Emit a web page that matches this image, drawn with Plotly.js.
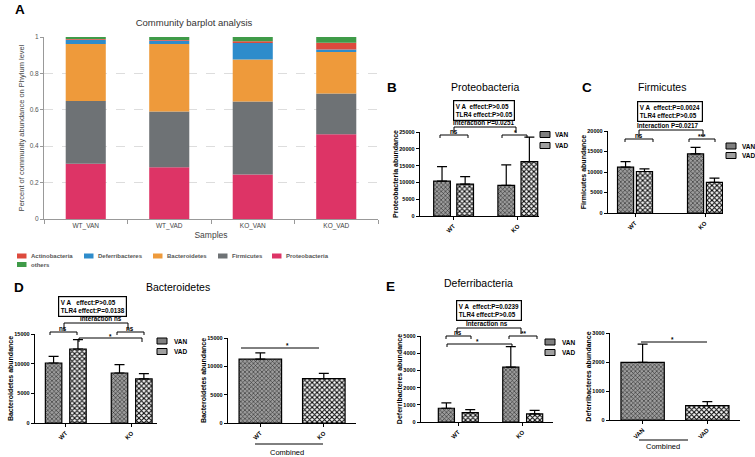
<!DOCTYPE html>
<html><head><meta charset="utf-8">
<script src="https://cdn.plot.ly/plotly-3.0.1.min.js"></script>
<style>html,body{margin:0;padding:0;background:#fff;}#chart{width:755px;height:457px;}</style>
</head><body><div id="chart"></div>
<script>
// ---------- Panel A data (relative abundance, phylum level) ----------
const samples = ['WT_VAN','WT_VAD','KO_VAN','KO_VAD'];
const proteobacteria  = [0.304,0.284,0.245,0.465];
const firmicutes      = [0.344,0.306,0.400,0.224];
const bacteroidetes   = [0.314,0.372,0.232,0.229];
const deferribacteres = [0.023,0.018,0.090,0.014];
const actinobacteria  = [0.004,0.004,0.009,0.037];
const others          = [0.011,0.016,0.024,0.031];

// ---------- Panels B-E data (abundance, mean and SEM) ----------
const genotypes = ['WT','KO'];
const treatments = ['VAN','VAD'];
const proteoVAN = [10400, 9100],  proteoVANsem = [4300, 6100];
const proteoVAD = [9500, 16200],  proteoVADsem = [2200, 7300];
const firmVAN   = [11170, 14410], firmVANsem   = [1380, 1620];
const firmVAD   = [10120, 7450],  firmVADsem   = [650, 1050];
const bactVAN   = [10110, 8430],  bactVANsem   = [1130, 1400];
const bactVAD   = [12470, 7420],  bactVADsem   = [1570, 890];
const bactCombined = [11265, 7820], bactCombinedSem = [1105, 930];
const defVAN    = [798, 3190],    defVANsem    = [311, 1187];
const defVAD    = [545, 467],     defVADsem    = [175, 214];
const defCombined = [1985, 496],  defCombinedSem = [634, 139];

const yTicksB = [0,5000,10000,15000,20000,25000];
const yTicksC = [0,5000,10000,15000,20000];
const yTicksD = [0,5000,10000,15000];
const yTicksE = [0,1000,2000,3000,4000,5000];
const yTicksE2 = [0,1000,2000,3000];

// ---------- helpers ----------
const W = 755, H = 457;
const X = p => p / W, Y = p => 1 - p / H;
const F = 'Liberation Sans, Arial, sans-serif';

const patVAN = {shape:'x', fgcolor:'#2a2a2a', bgcolor:'#9c9c9c', size:3, solidity:0.35};
const patVAD = {shape:'x', fgcolor:'#000', bgcolor:'#fff', size:3.5, solidity:0.5};

function errs(sem){ return {type:'data', array:sem, arrayminus:sem.map(()=>0), symmetric:false, color:'#000', thickness:1.2, width:5}; }
function barT(xa, ya, y, sem, name, off, w, pat){
  return {type:'bar', x:genotypes, y, name, xaxis:xa, yaxis:ya, offset:off, width:w,
    marker:{color:pat.bgcolor, line:{color:'#000', width:1.2}, pattern:pat},
    error_y:errs(sem), showlegend:false, hoverinfo:'skip'};
}
function combT(xa, ya, cats, y, sem){
  return {type:'bar', x:cats, y, xaxis:xa, yaxis:ya, offset:-0.335, width:0.67,
    marker:{color:'#bbb', line:{color:'#000', width:1.2},
      pattern:{shape:['x','x'], fgcolor:[patVAN.fgcolor, patVAD.fgcolor], bgcolor:[patVAN.bgcolor, patVAD.bgcolor], size:[patVAN.size, patVAD.size], solidity:[patVAN.solidity, patVAD.solidity]}},
    error_y:errs(sem), showlegend:false, hoverinfo:'skip'};
}

const traces = [];
// Panel A stacked bars
const phyla = [
  ['Proteobacteria', proteobacteria, '#DD3466'],
  ['Firmicutes', firmicutes, '#6E7275'],
  ['Bacteroidetes', bacteroidetes, '#EE9A3B'],
  ['Deferribacteres', deferribacteres, '#2E8CCB'],
  ['Actinobacteria', actinobacteria, '#DD4A3D'],
  ['others', others, '#3F9B48']
];
let cum = samples.map(() => 0);
phyla.forEach(([name, vals, col]) => {
  traces.push({type:'bar', x:samples, y:vals, base:cum.slice(), name, offset:-0.24, width:0.48,
    marker:{color:col, line:{width:0}}, xaxis:'x', yaxis:'y', showlegend:false, hoverinfo:'skip'});
  cum = cum.map((c, i) => c + vals[i]);
});

// Panel B
traces.push(barT('x2','y2', proteoVAN, proteoVANsem, 'VAN', -0.31, 0.26, patVAN));
traces.push(barT('x2','y2', proteoVAD, proteoVADsem, 'VAD', 0.05, 0.26, patVAD));
// Panel C
traces.push(barT('x3','y3', firmVAN, firmVANsem, 'VAN', -0.25, 0.23, patVAN));
traces.push(barT('x3','y3', firmVAD, firmVADsem, 'VAD', 0.02, 0.23, patVAD));
// Panel D
traces.push(barT('x4','y4', bactVAN, bactVANsem, 'VAN', -0.31, 0.25, patVAN));
traces.push(barT('x4','y4', bactVAD, bactVADsem, 'VAD', 0.06, 0.25, patVAD));
traces.push(combT('x5','y5', genotypes, bactCombined, bactCombinedSem));
// Panel E
traces.push(barT('x6','y6', defVAN, defVANsem, 'VAN', -0.31, 0.25, patVAN));
traces.push(barT('x6','y6', defVAD, defVADsem, 'VAD', 0.06, 0.25, patVAD));
traces.push(combT('x7','y7', treatments, defCombined, defCombinedSem));

function xAx(l, r, range, anchor){
  return {domain:[X(l), X(r)], range, type:'category', anchor, showline:true, linecolor:'#000', linewidth:1.3,
    ticks:'outside', ticklen:3, tickcolor:'#000', tickwidth:1, tickangle:-45,
    tickfont:{size:6, family:F, weight:700, color:'#000'}, showgrid:false, zeroline:false, fixedrange:true};
}
function yAx(top, bot, ticks, title, anchor){
  return {domain:[Y(bot), Y(top)], range:[0, ticks[ticks.length-1]], anchor, tickvals:ticks, ticktext:ticks.map(String),
    showline:true, linecolor:'#000', linewidth:1.3, ticks:'outside', ticklen:3, tickcolor:'#000', tickwidth:1,
    tickfont:{size:5.5, family:F, weight:700, color:'#000'}, showgrid:false, zeroline:false, fixedrange:true,
    title:{text:title, font:{size:7, family:F, weight:700, color:'#000'}, standoff:0}};
}

const shapes = [], annotations = [];
function seg(x0,y0,x1,y1,w){ shapes.push({type:'line', xref:'paper', yref:'paper', x0:X(x0), y0:Y(y0), x1:X(x1), y1:Y(y1), line:{color:'#000', width:w||1}}); }
function bracket(x0,x1,y,drop){ seg(x0,y,x1,y); seg(x0,y,x0,y+drop); seg(x1,y,x1,y+drop); }
function txt(x,y,t,size,extra){
  annotations.push(Object.assign({xref:'paper', yref:'paper', x:X(x), y:Y(y), text:t, showarrow:false,
    xanchor:'center', yanchor:'middle', font:{size, family:F, color:'#000'}}, extra||{}));
}
function bold(x,y,t,size){ txt(x,y,t,size,{font:{size, family:F, color:'#000', weight:700}}); }
function statBox(cx,cy,t){
  txt(cx,cy,t,6.3,{align:'left', bordercolor:'#000', borderwidth:1.2, borderpad:1.5, font:{size:6.3, family:F, color:'#000', weight:700}});
}
function swatch(x0,y0,x1,y1,col,line){ shapes.push({type:'rect', xref:'paper', yref:'paper', x0:X(x0), y0:Y(y1), x1:X(x1), y1:Y(y0), fillcolor:col, line:line||{width:0}}); }
function vLegend(sx, tx, y1, y2){
  swatch(sx, y1-3, sx+10, y1+3, '#7f7f7f', {color:'#000', width:1});
  swatch(sx, y2-3, sx+10, y2+3, '#a0a0a0', {color:'#000', width:1});
  txt(tx, y1, 'VAN', 6.5, {xanchor:'left', font:{size:6.5, family:F, color:'#000', weight:700}});
  txt(tx, y2, 'VAD', 6.5, {xanchor:'left', font:{size:6.5, family:F, color:'#000', weight:700}});
}

// Panel letters
[['A',20,9],['B',392,87],['C',587,87],['D',19,287],['E',390,286]].forEach(([t,x,y]) =>
  txt(x,y,t,13.5,{font:{size:13.5, family:F, color:'#000', weight:700}}));

// Panel A legend
const legA = [['Actinobacteria',17,256,'#DD4A3D'],['Deferribacteres',84,256,'#2E8CCB'],['Bacteroidetes',153,256,'#EE9A3B'],
              ['Firmicutes',218,256,'#6E7275'],['Proteobacteria',272,256,'#DD3466'],['others',17,264.5,'#3F9B48']];
legA.forEach(([t,x,y,c]) => {
  swatch(x, y-2.5, x+9.5, y+2.5, c);
  txt(x+12, y, t, 6, {xanchor:'left', font:{size:6, family:F, color:'#555', weight:700}});
});

// Panel B decorations
txt(485,87,'Proteobacteria',10.5);
statBox(484,110,'V A&nbsp; effect:P&gt;0.05<br>TLR4 effect:P&gt;0.05');
bold(484,122.5,'Interaction P=0.0251',6.3);
bracket(454,516,127,6);
bracket(440,468,135,3); bold(454,131,'ns',6.3);
bracket(502,527,135,3); bold(515,132.5,'*',6.3);
vLegend(540,553,134.5,145.5);

// Panel C decorations
txt(662,87,'Firmicutes',10.5);
statBox(670,112,'V A&nbsp; effect:P=0.0024<br>TLR4 effect:P&gt;0.05');
bold(668,125.5,'Interaction P=0.0217',6.3);
bracket(639,703,130,7);
bracket(625,653,139,3); bold(639,135,'ns',6.3);
bracket(689,715,139,3); bold(702,136.5,'***',6.3);
vLegend(726,740,146,155.5);

// Panel D decorations
txt(178,287,'Bacteroidetes',10.5);
statBox(92.5,306,'V A&nbsp;&nbsp; effect:P&gt;0.05<br>TLR4 effect:P=0.0138');
bold(101,318.5,'Interaction ns',6.3);
bracket(64,128,323,7);
bracket(50,77,332,3); bold(63,328,'ns',6.3);
bracket(117,144,332,3); bold(130,328,'ns',6.3);
bracket(79,142,338,4); bold(110,336,'*',6.3);
vLegend(157,172,341,351.5);
seg(241,348,319,348); bold(287,345.5,'*',6.3);
seg(255,444,323,444); txt(287,452,'Combined',7.5);

// Panel E decorations
txt(478,283,'Deferribacteria',10.5);
statBox(489.5,310,'V A&nbsp; effect:P=0.0239<br>TLR4 effect:P&gt;0.05');
bold(487,323.5,'Interaction ns',6.3);
bracket(457,521,328,6);
bracket(446,471,336,3); bold(458,332,'ns',6.3);
bracket(509,537,336,3); bold(523,333.5,'**',6.3);
bracket(447,512,344,3); bold(477,341.5,'*',6.3);
vLegend(545,560,342,352.5);
seg(641,342,707,342); bold(672,339.5,'*',6.3);
seg(639,440,688,440); txt(663,446,'Combined',7.5);

const layout = {
  width:W, height:H, margin:{l:0,r:0,t:0,b:0}, paper_bgcolor:'#fff', plot_bgcolor:'rgba(0,0,0,0)',
  font:{family:F}, barmode:'overlay', showlegend:false,
  title:{text:'Community barplot analysis', x:X(194), y:Y(23), xanchor:'center', yanchor:'middle', font:{size:9.5, color:'#333', family:F}},
  xaxis:{domain:[X(44),X(378)], range:[-0.5,3.5], type:'category', anchor:'y', showline:true, linecolor:'#999', linewidth:1,
    ticks:'outside', tickson:'boundaries', ticklen:4, tickcolor:'#999', tickfont:{size:6.5, color:'#444', family:F},
    title:{text:'Samples', font:{size:8.5, color:'#444', family:F}, standoff:3}, showgrid:false, zeroline:false, fixedrange:true},
  yaxis:{domain:[Y(219),Y(37)], range:[0,1], anchor:'x', tick0:0, dtick:0.2, showline:true, linecolor:'#999', linewidth:1,
    ticks:'outside', ticklen:3, tickcolor:'#999', tickfont:{size:6.5, color:'#555', family:F},
    showgrid:true, gridcolor:'#ddd', griddash:'dash', gridwidth:1, zeroline:false, fixedrange:true,
    title:{text:'Percent of community abundance on Phylum level', font:{size:7.5, color:'#444', family:F}, standoff:4}},
  xaxis2:xAx(420,539,[-0.523,1.33],'y2'), yaxis2:yAx(132,216,yTicksB,'Proteobacteria abundance','x2'),
  xaxis3:xAx(608,723,[-0.386,1.257],'y3'), yaxis3:yAx(131,213,yTicksC,'Firmicutes abundance','x3'),
  xaxis4:xAx(35,157,[-0.467,1.384],'y4'), yaxis4:yAx(334,423,yTicksD,'Bacteroidetes abundance','x4'),
  xaxis5:xAx(228,356,[-0.509,1.507],'y5'), yaxis5:yAx(338,423,yTicksD,'Bacteroidetes abundance','x5'),
  xaxis6:xAx(421,553,[-0.579,1.47],'y6'), yaxis6:yAx(336,422,yTicksE,'Deferribacteres abundance','x6'),
  xaxis7:xAx(610,740,[-0.504,1.505],'y7'), yaxis7:yAx(333,420,yTicksE2,'Deferribacteres abundance','x7'),
  shapes, annotations
};
Plotly.newPlot('chart', traces, layout, {staticPlot:true, displayModeBar:false});
</script></body></html>
